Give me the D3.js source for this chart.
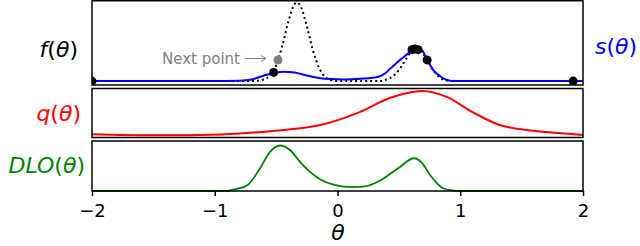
<!DOCTYPE html>
<html>
<head>
<meta charset="utf-8">
<script src="https://cdn.jsdelivr.net/npm/d3@7"></script>
<style>
  body { margin: 0; background: #fff; }
  svg { display: block; font-family: "DejaVu Sans", sans-serif; }
</style>
</head>
<body>
<div id="chart"></div>
<script>
// f(theta): objective (dotted)
var fTheta = [-2, -1, -0.7, -0.6, -0.55, -0.5, -0.45, -0.4, -0.35, -0.33, -0.3, -0.25, -0.2, -0.15, -0.1, -0.05, 0, 0.35, 0.4, 0.45, 0.5, 0.55, 0.6, 0.64, 0.68, 0.73, 0.78, 0.83, 0.88, 0.95, 2];
var fVals = [0, 0, 0, 0.02, 0.07, 0.2, 0.45, 0.76, 0.98, 1.0, 0.95, 0.7, 0.39, 0.17, 0.05, 0.01, 0, 0, 0.02, 0.06, 0.14, 0.26, 0.37, 0.41, 0.38, 0.27, 0.14, 0.05, 0.01, 0, 0];

// s(theta): surrogate (blue)
var sTheta = [-2, -1, -0.8, -0.7, -0.6, -0.5, -0.44, -0.35, -0.25, -0.15, -0.05, 0.05, 0.15, 0.25, 0.3, 0.35, 0.39, 0.43, 0.47, 0.51, 0.55, 0.59, 0.65, 0.69, 0.73, 0.78, 0.835, 0.88, 0.95, 2];
var sVals = [0, 0, 0.005, 0.02, 0.07, 0.11, 0.12, 0.11, 0.07, 0.04, 0.025, 0.02, 0.025, 0.035, 0.045, 0.065, 0.1, 0.16, 0.215, 0.27, 0.32, 0.37, 0.42, 0.39, 0.27, 0.14, 0.065, 0.02, 0, 0];

// observed points
var obsTheta = [-2, -0.52, 0.607, 0.63, 0.656, 0.73, 1.92];
var obsVals = [0, 0.11, 0.4, 0.41, 0.4, 0.27, 0];
var nextTheta = -0.485, nextVal = 0.268;

// q(theta) (red)
var qTheta = [-2, -1.5, -1.12, -0.71, -0.4, -0.14, 0.18, 0.43, 0.69, 0.89, 1.1, 1.32, 1.54, 1.8, 2];
var qVals = [0.04, 0.015, 0.02, 0.07, 0.14, 0.24, 0.52, 0.83, 0.98, 0.85, 0.52, 0.24, 0.13, 0.065, 0.02];

// DLO(theta) (green)
var dTheta = [-2, -0.9, -0.851, -0.737, -0.631, -0.55, -0.468, -0.387, -0.305, -0.224, -0.143, -0.02, 0.118, 0.224, 0.346, 0.509, 0.623, 0.688, 0.754, 0.86, 0.94, 1.0, 2];
var dVals = [0, 0, 0.03, 0.12, 0.5, 0.86, 1.0, 0.9, 0.64, 0.42, 0.26, 0.13, 0.085, 0.1, 0.23, 0.53, 0.72, 0.62, 0.35, 0.06, 0.01, 0, 0];

var xTicks = [-2, -1, 0, 1, 2];

var width = 640, height = 246;
var svg = d3.select("#chart").append("svg")
  .attr("width", width)
  .attr("height", height);

var x = d3.scaleLinear().domain([-2, 2]).range([92, 583]);

var y1 = d3.scaleLinear().domain([-0.05, 1.02]).range([85, 1]);
var y2 = d3.scaleLinear().domain([0, 1]).range([136, 90]);
var y3 = d3.scaleLinear().domain([0, 1]).range([191, 145.5]);

var panels = [
  { top: 0.75, bottom: 85 },
  { top: 88.5, bottom: 137.5 },
  { top: 141, bottom: 191 }
];

svg.append("clipPath")
  .attr("id", "clip1")
  .append("rect")
  .attr("x", x(-2))
  .attr("y", panels[0].top)
  .attr("width", x(2) - x(-2))
  .attr("height", panels[0].bottom - panels[0].top);

function zip(a, b) {
  return a.map(function (d, i) { return [d, b[i]]; });
}

function line(yScale) {
  return d3.line()
    .x(function (d) { return x(d[0]); })
    .y(function (d) { return yScale(d[1]); })
    .curve(d3.curveMonotoneX);
}

// panel 1
var p1 = svg.append("g").attr("clip-path", "url(#clip1)");
p1.append("path")
  .attr("d", line(y1)(zip(fTheta, fVals)))
  .attr("fill", "none")
  .attr("stroke", "#000")
  .attr("stroke-width", 2)
  .attr("stroke-dasharray", "2,3");

p1.append("path")
  .attr("d", line(y1)(zip(sTheta, sVals)))
  .attr("fill", "none")
  .attr("stroke", "#0000ff")
  .attr("stroke-width", 2);

p1.append("g")
  .selectAll("circle")
  .data(zip(obsTheta, obsVals))
  .enter()
  .append("circle")
  .attr("cx", function (d) { return x(d[0]); })
  .attr("cy", function (d) { return y1(d[1]); })
  .attr("r", 4.5)
  .attr("fill", "#000");

p1.append("circle")
  .attr("cx", x(nextTheta))
  .attr("cy", y1(nextVal))
  .attr("r", 4.5)
  .attr("fill", "#808080");

// annotation arrow
var ax = x(nextTheta), ay = y1(nextVal) - 1.5;
svg.append("path")
  .attr("d", "M" + (ax - 33) + "," + ay + "H" + (ax - 12))
  .attr("stroke", "#808080")
  .attr("stroke-width", 1);
svg.append("path")
  .attr("d", "M" + (ax - 17) + "," + (ay - 3) + "L" + (ax - 12) + "," + ay + "L" + (ax - 17) + "," + (ay + 3))
  .attr("stroke", "#808080")
  .attr("stroke-width", 1)
  .attr("fill", "none");
svg.append("text")
  .attr("x", ax - 38)
  .attr("y", ay + 5)
  .attr("text-anchor", "end")
  .attr("font-size", 15)
  .attr("fill", "#808080")
  .text("Next point");

// panel 2
svg.append("path")
  .attr("d", line(y2)(zip(qTheta, qVals)))
  .attr("fill", "none")
  .attr("stroke", "#ff0000")
  .attr("stroke-width", 2);

// panel 3
svg.append("path")
  .attr("d", line(y3)(zip(dTheta, dVals)))
  .attr("fill", "none")
  .attr("stroke", "#008000")
  .attr("stroke-width", 1.8);

// frames
panels.forEach(function (p) {
  svg.append("rect")
    .attr("x", x(-2))
    .attr("y", p.top)
    .attr("width", x(2) - x(-2))
    .attr("height", p.bottom - p.top)
    .attr("fill", "none")
    .attr("stroke", "#000")
    .attr("stroke-width", 1.5);
});

// x axis
var axis = svg.append("g")
  .attr("transform", "translate(0," + panels[2].bottom + ")")
  .call(d3.axisBottom(x).tickValues(xTicks).tickSize(5).tickPadding(8)
    .tickFormat(function (d) { return d < 0 ? "\u2212" + (-d) : d; }));
axis.select(".domain").remove();
axis.selectAll("line").attr("stroke-width", 1.5);
axis.selectAll("text")
  .attr("font-family", "DejaVu Sans")
  .attr("font-size", 18)
  .attr("fill", "#000");

// labels
function mathLabel(tx, ty, anchor, color, size, parts) {
  var t = svg.append("text")
    .attr("x", tx)
    .attr("y", ty)
    .attr("text-anchor", anchor)
    .attr("font-size", size)
    .attr("fill", color);
  parts.forEach(function (p) {
    t.append("tspan")
      .attr("font-style", p[1] ? "italic" : "normal")
      .text(p[0]);
  });
}

mathLabel(78, 57, "end", "#000", 22, [["f", true], ["(", false], ["\u03b8", true], [")", false]]);
mathLabel(595, 54, "start", "#0000ff", 22, [["s", true], ["(", false], ["\u03b8", true], [")", false]]);
mathLabel(81, 121, "end", "#ff0000", 22, [["q", true], ["(", false], ["\u03b8", true], [")", false]]);
mathLabel(85, 173, "end", "#008000", 22, [["DLO", true], ["(", false], ["\u03b8", true], [")", false]]);
mathLabel(338, 240, "middle", "#000", 22, [["\u03b8", true]]);
</script>
</body>
</html>
